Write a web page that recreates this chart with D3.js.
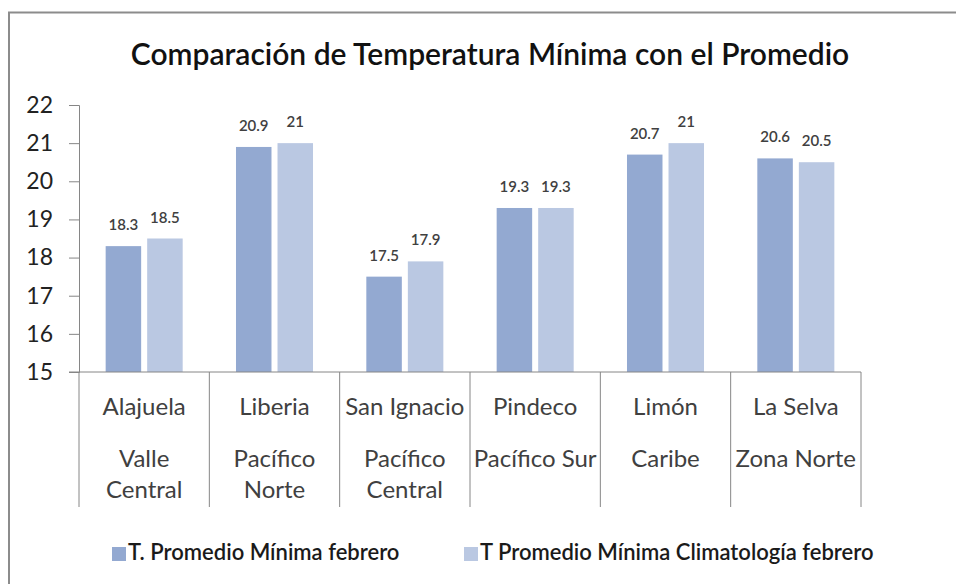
<!DOCTYPE html>
<html>
<head>
<meta charset="utf-8">
<script src="https://cdn.jsdelivr.net/npm/d3@7"></script>
<style>
  html, body { margin: 0; padding: 0; background: #fff; overflow: hidden; }
  svg { display: block; }
</style>
</head>
<body>
<div id="chart"></div>
<script>
// station names (first level) and regions (second level, may wrap)
const stations = ["Alajuela", "Liberia", "San Ignacio", "Pindeco", "Limón", "La Selva"];
const regions = [["Valle", "Central"], ["Pacífico", "Norte"], ["Pacífico", "Central"], ["Pacífico Sur"], ["Caribe"], ["Zona Norte"]];
const seriesNames = ["T. Promedio Mínima febrero", "T Promedio Mínima Climatología febrero"];
const minFebrero = [18.3, 20.9, 17.5, 19.3, 20.7, 20.6];
const minClimatologia = [18.5, 21, 17.9, 19.3, 21, 20.5];
const yTicks = [15, 16, 17, 18, 19, 20, 21, 22];
const colors = ["#93a9d1", "#bac8e2"];

const width = 956, height = 584;
const margin = {top: 105, right: 95, bottom: 212, left: 79};
const innerWidth = width - margin.left - margin.right,
      innerHeight = height - margin.top - margin.bottom;
const font = "Lato, 'Open Sans', sans-serif";

const data = stations.map((s, i) => ({
  station: s,
  region: regions[i],
  values: [minFebrero[i], minClimatologia[i]]
}));

const svg = d3.select("#chart").append("svg")
  .attr("width", width)
  .attr("height", height);

// outer chart frame: only the top and left edges are visible in the picture
svg.append("path")
  .attr("d", `M9,${height} V12.5 H${width}`)
  .attr("fill", "none")
  .attr("stroke", "#8c8c8c")
  .attr("stroke-width", 2);

svg.append("text")
  .text("Comparación de Temperatura Mínima con el Promedio")
  .attr("x", 490).attr("y", 65)
  .attr("text-anchor", "middle")
  .style("font-family", font)
  .style("font-size", "30px")
  .style("font-weight", "600")
  .style("fill", "#111");

const x0 = d3.scaleBand()
  .domain(stations)
  .range([0, innerWidth])
  .padding(0);

const x1 = d3.scaleBand()
  .domain([0, 1])
  .range([0, x0.bandwidth()])
  .paddingInner(0.145)
  .paddingOuter(0.642);

const y = d3.scaleLinear()
  .domain([15, 22])
  .range([innerHeight, 0]);

const g = svg.append("g")
  .attr("transform", `translate(${margin.left},${margin.top})`);

// y axis
const yAxis = g.append("g")
  .call(d3.axisLeft(y).tickValues(yTicks).tickSize(10).tickPadding(16).tickFormat(d3.format("d")));
yAxis.select(".domain").attr("stroke", "#868686");
yAxis.selectAll(".tick line").attr("stroke", "#868686");
yAxis.selectAll("text")
  .style("font-family", font)
  .style("font-size", "23px")
  .style("fill", "#222");

// bars
const groups = g.selectAll("g.station")
  .data(data)
  .enter().append("g")
  .attr("class", "station")
  .attr("transform", d => `translate(${x0(d.station)},0)`);

groups.selectAll("rect")
  .data(d => d.values)
  .enter().append("rect")
  .attr("x", (d, i) => x1(i))
  .attr("y", d => y(d))
  .attr("width", x1.bandwidth())
  .attr("height", d => innerHeight - y(d))
  .attr("fill", (d, i) => colors[i]);

groups.selectAll("text.val")
  .data(d => d.values)
  .enter().append("text")
  .attr("class", "val")
  .text(d => d)
  .attr("x", (d, i) => x1(i) + x1.bandwidth() / 2)
  .attr("y", d => y(d) - 16)
  .attr("text-anchor", "middle")
  .style("font-family", font)
  .style("font-size", "15px")
  .style("font-weight", "600")
  .style("fill", "#404040");

// x axis: baseline plus category dividers spanning both label levels
g.append("line")
  .attr("x1", -10).attr("x2", innerWidth)
  .attr("y1", innerHeight).attr("y2", innerHeight)
  .attr("stroke", "#868686");

const bounds = stations.map(s => x0(s)).concat([innerWidth]);
g.selectAll("line.div")
  .data(bounds)
  .enter().append("line")
  .attr("class", "div")
  .attr("x1", d => d).attr("x2", d => d)
  .attr("y1", innerHeight).attr("y2", innerHeight + 135)
  .attr("stroke", "#868686");

groups.append("text")
  .text(d => d.station)
  .attr("x", x0.bandwidth() / 2)
  .attr("y", innerHeight + 43)
  .attr("text-anchor", "middle")
  .style("font-family", font)
  .style("font-size", "24px")
  .style("fill", "#404040");

groups.each(function(d) {
  const t = d3.select(this).append("text")
    .attr("text-anchor", "middle")
    .style("font-family", font)
    .style("font-size", "24px")
    .style("fill", "#404040");
  d.region.forEach((line, k) => {
    t.append("tspan")
      .attr("x", x0.bandwidth() / 2)
      .attr("y", innerHeight + 95 + k * 31)
      .text(line);
  });
});

// legend
const legendX = [112, 464];
const legend = svg.selectAll("g.legend")
  .data(seriesNames)
  .enter().append("g")
  .attr("class", "legend")
  .attr("transform", (d, i) => `translate(${legendX[i]},560)`);

legend.append("rect")
  .attr("x", 0).attr("y", -13)
  .attr("width", 14).attr("height", 14)
  .attr("fill", (d, i) => colors[i]);

legend.append("text")
  .text(d => d)
  .attr("x", 16).attr("y", 0)
  .style("font-family", font)
  .style("font-size", "22px")
  .style("font-weight", "600")
  .style("fill", "#1a1a1a");
</script>
</body>
</html>
